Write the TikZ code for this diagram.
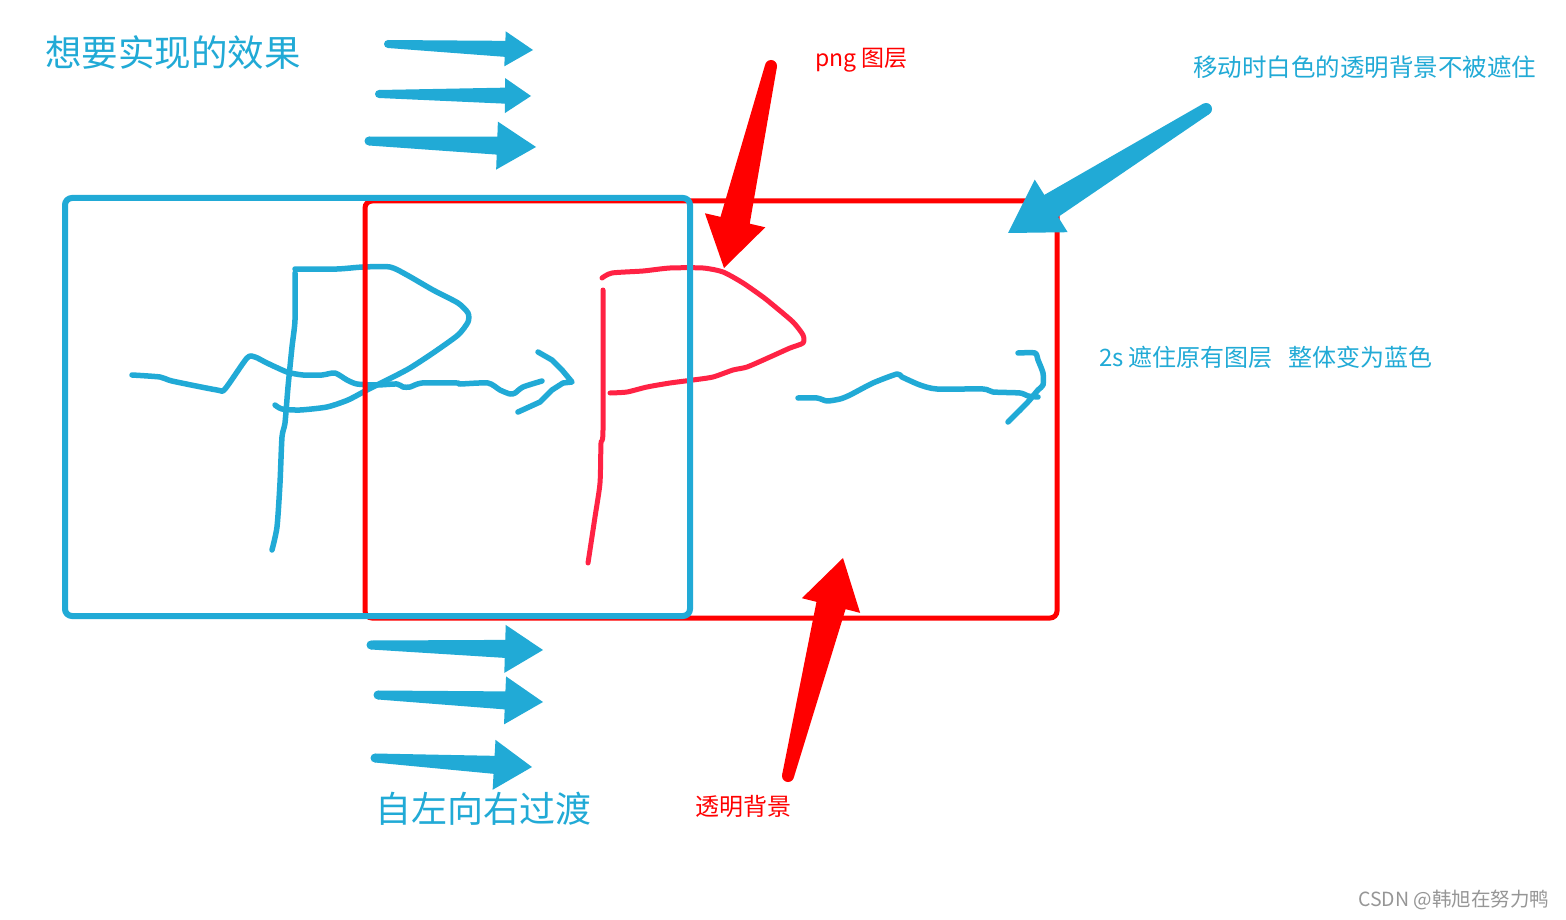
\documentclass[tikz,border=0pt]{standalone}
\usepackage{fontspec}
\setmainfont{Noto Sans CJK SC}
\usetikzlibrary{calc}
\definecolor{skyblue}{RGB}{33,170,214}
\definecolor{pngred}{RGB}{255,0,0}
\definecolor{inkred}{RGB}{255,34,68}
\definecolor{markgray}{RGB}{150,150,150}

% tapered arrow: colour, tail, tip, tail half-width, shaft half-width, head half-width, head length
\newcommand{\fatarrow}[7]{%
  \coordinate (fa-t) at #2;
  \coordinate (fa-p) at #3;
  \coordinate (fa-h) at ($(fa-p)!#7!(fa-t)$);
  \fill[#1] ($(fa-t)!#4!90:(fa-p)$) -- ($(fa-h)!#5!-90:(fa-t)$) -- ($(fa-h)!#6!-90:(fa-t)$)
    -- (fa-p) -- ($(fa-h)!#6!90:(fa-t)$) -- ($(fa-h)!#5!90:(fa-t)$) -- ($(fa-t)!#4!-90:(fa-p)$) -- cycle;
  \fill[#1] (fa-t) circle[radius=#4];
}

\begin{document}
\begin{tikzpicture}[x=1pt,y=-1pt,
  bluepen/.style={draw=skyblue,line width=5.5pt,line cap=round,line join=round},
  redpen/.style={draw=inkred,line width=5pt,line cap=round,line join=round},
  layerbox/.style={line width=#1,rounded corners=7pt},
  note/.style={inner sep=0pt,anchor=west}
]
  \useasboundingbox[fill=white] (0,0) rectangle (1566,920);

  % blue sketch inside the moving layer
  \draw[bluepen] plot[smooth,tension=0.4] coordinates {(132,375) (160,377) (172,381) (217,390) (225,389) (247,358) (255,357) (267,363) (287,372) (303,375) (322,375) (335,373) (347,380) (357,384) (377,385) (397,384) (403,387) (410,387) (422,383) (457,383) (460,384) (488,383) (500,390) (510,394) (515,393) (523,387) (542,381)};
  \draw[bluepen] (538,352) -- (552,360) -- (562,370) -- (572,382) -- (563,383) -- (552,390) -- (540,402) -- (518,412);
  \draw[bluepen] plot[smooth,tension=0.4] coordinates {(295,273) (295,320) (292,347) (288,387) (285,423) (282,437) (280,483) (277,527) (272,550)};
  \draw[bluepen] plot[smooth,tension=0.4] coordinates {(295,269) (337,269) (363,267) (390,267) (407,275) (433,290) (458,303) (468,313) (468,322) (458,335) (433,353) (410,368) (393,377) (367,390) (348,400) (327,407) (300,410) (282,409) (275,405)};

  % png layer
  \draw[layerbox=5pt,draw=pngred] (365,201) rectangle (1057,618);
  \draw[redpen] plot[smooth,tension=0.4] coordinates {(603,290) (603,430) (601,443) (600,483) (595,517) (588,563)};
  \draw[redpen] plot[smooth,tension=0.4] coordinates {(602,278) (612,273) (643,271) (670,268) (703,268) (723,272) (743,283) (763,297) (773,305) (793,322) (803,335) (803,343) (790,348) (770,357) (747,367) (733,370) (713,377) (693,380) (670,383) (647,387) (627,392) (610,393)};

  % moving blue layer
  \draw[layerbox=6pt,draw=skyblue] (65,198) rectangle (690,616);
  \draw[bluepen] plot[smooth,tension=0.4] coordinates {(798,398) (817,398) (827,401) (840,399) (850,395) (873,383) (897,374) (902,377) (920,385) (937,389) (983,389) (993,392) (1020,393) (1028,396) (1038,397)};
  \draw[bluepen] plot[smooth,tension=0.4] coordinates {(1018,353) (1035,353) (1038,360) (1043,373) (1043,385) (1038,390) (1027,403) (1008,422)};

  % direction arrows
  \fatarrow{skyblue}{(388,44)}{(533,50)}{4pt}{8pt}{17.5pt}{28pt}
  \fatarrow{skyblue}{(379,94)}{(531,96)}{4pt}{8pt}{17.5pt}{26pt}
  \fatarrow{skyblue}{(369,141)}{(536,147)}{4.5pt}{9pt}{24pt}{39pt}
  \fatarrow{skyblue}{(371,645)}{(543,650)}{4.5pt}{9pt}{24pt}{38pt}
  \fatarrow{skyblue}{(378,695)}{(543,702)}{4.5pt}{9pt}{24pt}{38pt}
  \fatarrow{skyblue}{(375,758)}{(532,767)}{4.5pt}{9pt}{25pt}{38pt}

  % pointers
  \fatarrow{pngred}{(771,66)}{(724,268)}{6pt}{15pt}{31pt}{49pt}
  \fatarrow{pngred}{(788,776)}{(843,558)}{6pt}{15pt}{30pt}{49pt}
  \fatarrow{skyblue}{(1206,109)}{(1008,233)}{6pt}{13pt}{31pt}{51pt}

  % labels
  \node[note,text=skyblue,font=\fontsize{36.5}{40}\selectfont] (goal) at (45,53) {想要实现的效果};
  \node[note,text=skyblue,font=\fontsize{36}{40}\selectfont] (ltor) at (375,809) {自左向右过渡};
  \node[note,text=pngred,font=\fontsize{23}{26}\selectfont] (pnglayer) at (815,60) {png\hspace{5pt}图层};
  \node[note,text=pngred,font=\fontsize{24}{28}\selectfont] (transbg) at (695,806) {透明背景};
  \node[note,text=skyblue,font=\fontsize{24.5}{28}\selectfont] (whitebg) at (1193,67) {移动时白色的透明背景不被遮住};
  \node[note,text=skyblue,font=\fontsize{24}{28}\selectfont] (cover) at (1099,357) {2s\hspace{5pt}遮住原有图层\hspace{16pt}整体变为蓝色};
  \node[note,text=markgray,font=\fontsize{19.5}{22}\selectfont] (mark) at (1358,900) {CSDN @韩旭在努力鸭};
\end{tikzpicture}
\end{document}
